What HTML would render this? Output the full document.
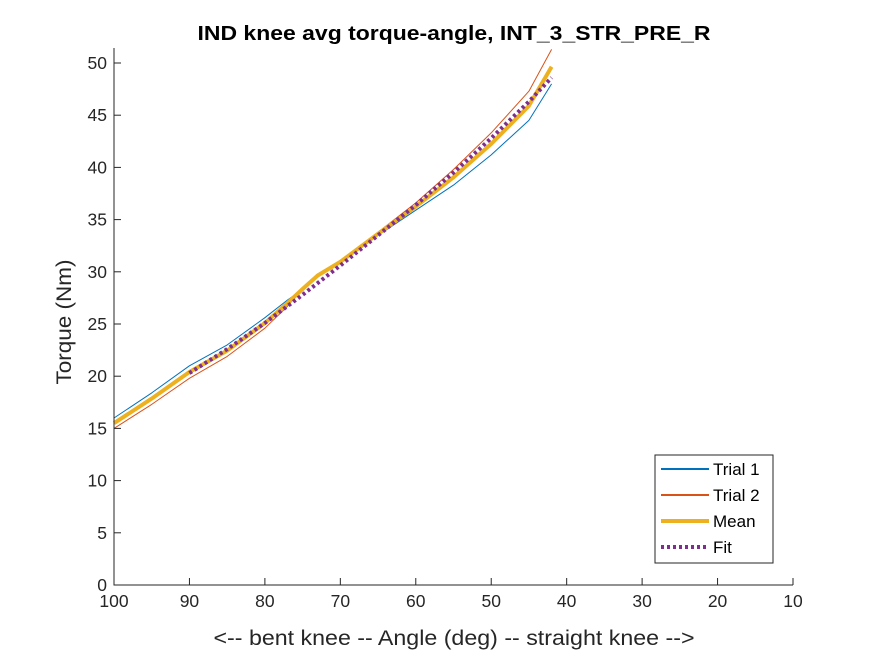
<!DOCTYPE html>
<html><head><meta charset="utf-8"><style>
body{margin:0;background:#fff;position:relative;}
svg text{font-family:"Liberation Sans",Arial,sans-serif;}
</style></head><body>
<svg id="chart" width="875" height="656" xmlns="http://www.w3.org/2000/svg">
<rect width="875" height="656" fill="#fff"/>
<g id="marks"></g>
<g id="axes"></g>
</svg>
<script>
const angles=[100,95,90,85,80,77,75,73,70,65,60,55,50,45,42];
const trial1=[16.0,18.4,21.0,23.0,25.6,27.3,28.3,29.6,30.9,33.5,35.9,38.3,41.2,44.5,48.0];
const trial2=[15.0,17.3,19.8,21.9,24.6,26.7,28.4,29.7,31.0,33.8,36.6,39.8,43.3,47.3,51.3];
const fitAngles=[90,85,80,75,70,65,60,55,50,45,42];
const fitVals=[20.3,22.6,25.1,27.8,30.6,33.5,36.4,39.5,42.8,46.3,48.6];
const xTicks=[100,90,80,70,60,50,40,30,20,10];
const yTicks=[0,5,10,15,20,25,30,35,40,45,50];
const L=114,R=793,T=48,B=585;
const xs=a=>L+(100-a)*(R-L)/90;
const ys=v=>B-v*(B-63)/50;
const NS='http://www.w3.org/2000/svg';
function mk(tag,attrs,parent){const e=document.createElementNS(NS,tag);for(const k in attrs)e.setAttribute(k,attrs[k]);parent.appendChild(e);return e;}
const marks=document.getElementById('marks'),axes=document.getElementById('axes');
const mean=trial1.map((v,i)=>(v+trial2[i])/2);
function line(xa,ya,color,w,dash,name){
 const d=xa.map((a,i)=>(i?'L':'M')+xs(a).toFixed(1)+' '+ys(ya[i]).toFixed(1)).join(' ');
 const p=mk('path',{d:d,fill:'none',stroke:color,'stroke-width':w,'stroke-linejoin':'round'},marks);
 if(dash)p.setAttribute('stroke-dasharray',dash);
 
 
}
line(angles,trial1,'#0072BD',1,null,'trial-1-line');
line(angles,trial2,'#D95319',1,null,'trial-2-line');
line(angles,mean,'#EDB120',4,null,'mean-line');
line(fitAngles,fitVals,'#7E2F8E',4,'3 3','fit-line');
const box=mk('path',{d:`M${L} ${T}V${B}H${R}`,fill:'none',stroke:'#262626','stroke-width':1},axes);


xTicks.forEach(t=>{
 const x=xs(t);
 mk('line',{x1:x,x2:x,y1:B,y2:B-7,stroke:'#262626'},axes);
 const tx=mk('text',{x:x,y:B+22,'text-anchor':'middle','font-size':'17.5',fill:'#262626'},axes);
 tx.textContent=t;
 
 
});
yTicks.forEach(t=>{
 const y=ys(t);
 mk('line',{x1:L,x2:L+7,y1:y,y2:y,stroke:'#262626'},axes);
 const tx=mk('text',{x:L-7,y:y+6,'text-anchor':'end','font-size':'17.5',fill:'#262626'},axes);
 tx.textContent=t;
 
 
});
</script>
<svg width="875" height="656" style="position:absolute;left:0;top:0" xmlns="http://www.w3.org/2000/svg">
<text x="454" y="40" text-anchor="middle" font-size="20" font-weight="bold" fill="#000" font-family="Liberation Sans, sans-serif" textLength="513" lengthAdjust="spacingAndGlyphs">IND knee avg torque-angle, INT_3_STR_PRE_R</text>
<text x="454" y="645" text-anchor="middle" font-size="21" fill="#262626" font-family="Liberation Sans, sans-serif" textLength="481" lengthAdjust="spacingAndGlyphs">&lt;-- bent knee -- Angle (deg) -- straight knee --&gt;</text>
<text transform="translate(71,322) rotate(-90)" text-anchor="middle" font-size="21" fill="#262626" font-family="Liberation Sans, sans-serif" textLength="125" lengthAdjust="spacingAndGlyphs">Torque (Nm)</text>
<g font-family="Liberation Sans, sans-serif" font-size="17" fill="#000">
<rect x="655" y="455" width="118" height="108" fill="#fff" stroke="#262626" stroke-width="1"/>
<line x1="661" y1="469" x2="709" y2="469" stroke="#0072BD" stroke-width="2"/><text x="713" y="475">Trial 1</text>
<line x1="661" y1="495" x2="709" y2="495" stroke="#D95319" stroke-width="2"/><text x="713" y="501">Trial 2</text>
<line x1="661" y1="521" x2="709" y2="521" stroke="#EDB120" stroke-width="4"/><text x="713" y="527">Mean</text>
<line x1="661" y1="547" x2="709" y2="547" stroke="#7E2F8E" stroke-width="4" stroke-dasharray="3 3"/><text x="713" y="553">Fit</text>
</g>
</svg>
</body></html>
